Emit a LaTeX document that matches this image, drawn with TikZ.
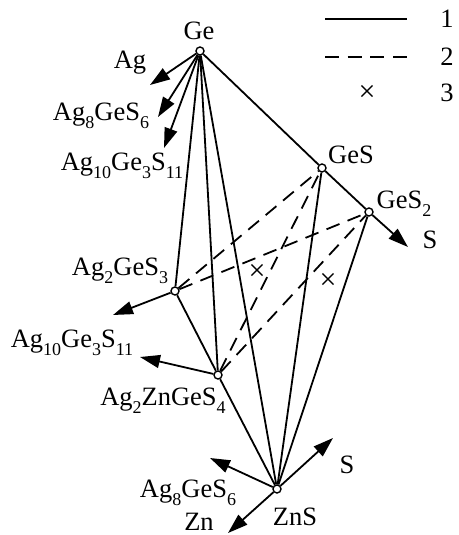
\documentclass[tikz,border=0pt]{standalone}
\usepackage{fontspec}
\setmainfont{Liberation Serif}
\usetikzlibrary{arrows.meta}

\newcommand{\ind}[1]{\raisebox{-0.3em}{\fontsize{18}{18}\selectfont #1}}

\begin{document}
\begin{tikzpicture}[
    x=1pt, y=-1pt,
    font=\fontsize{26.5}{30}\selectfont,
    % Style for the phase points
    punto/.style={
        circle,
        draw=black,
        fill=white,
        line width=1.4pt,
        inner sep=0pt,
        minimum size=8pt
    },
    % Style for the labels
    etiqueta/.style={
        inner sep=0pt
    },
    % Style for the crosses
    cruz/.style={
        inner sep=0pt,
        font=\fontsize{30}{30}\selectfont
    },
    % Solid tie lines (1)
    linea/.style={
        line width=1.8pt
    },
    % Dashed lines (2)
    lineaDiscontinua/.style={
        line width=1.8pt,
        dash pattern=on 14pt off 8.7pt
    },
    % Arrows towards other phases
    flecha/.style={
        -{Triangle[length=20pt,width=13pt]},
        line width=1.8pt
    }
]
    \useasboundingbox (0,0) rectangle (458,535);

    % --- LEGEND (top right) ---
    \coordinate (l1a) at (325,19);
    \coordinate (l1b) at (407,19);
    \coordinate (l2a) at (325,57);
    \coordinate (l2b) at (407,57);
    \draw[linea] (l1a) -- (l1b);
    \draw[lineaDiscontinua] (l2a) -- (l2b);
    \node[cruz] (cruzL) at (367,93) {×};
    \node[etiqueta] (n1) at (447,19) {1};
    \node[etiqueta] (n2) at (447,57) {2};
    \node[etiqueta] (n3) at (447,93) {3};

    % --- PHASE POINTS ---
    \node[punto] (ge)        at (200,51)  {};
    \node[punto] (ges)       at (322,168) {};
    \node[punto] (ges2)      at (369,212) {};
    \node[punto] (ag2ges3)   at (175,291) {};
    \node[punto] (ag2znges4) at (218,375) {};
    \node[punto] (zns)       at (277,489) {};

    % --- LABELS ---
    \node[etiqueta] (tGe)        at (199,31)  {Ge};
    \node[etiqueta] (tAg)        at (130,63)  {Ag};
    \node[etiqueta] (tAg8)       at (101,116) {Ag\ind{8}GeS\ind{6}};
    \node[etiqueta] (tAg10)      at (122,166) {Ag\ind{10}Ge\ind{3}S\ind{11}};
    \node[etiqueta] (tGeS)       at (351,155) {GeS};
    \node[etiqueta] (tGeS2)      at (404,204) {GeS\ind{2}};
    \node[etiqueta] (tS1)        at (430,240) {S};
    \node[etiqueta] (tAg2GeS3)   at (120,271) {Ag\ind{2}GeS\ind{3}};
    \node[etiqueta] (tAg10b)     at (72,343)  {Ag\ind{10}Ge\ind{3}S\ind{11}};
    \node[etiqueta] (tAg2ZnGeS4) at (163,401) {Ag\ind{2}ZnGeS\ind{4}};
    \node[etiqueta] (tS2)        at (347,465) {S};
    \node[etiqueta] (tAg8b)      at (188,493) {Ag\ind{8}GeS\ind{6}};
    \node[etiqueta] (tZn)        at (199,522) {Zn};
    \node[etiqueta] (tZnS)       at (295,517) {ZnS};

    % --- ARROW ENDS ---
    \coordinate (fAg)    at (150,85);
    \coordinate (fAg8)   at (158,117);
    \coordinate (fAg10)  at (164,148);
    \coordinate (fS1)    at (408,247);
    \coordinate (fAg10b) at (113,315);
    \coordinate (fAg10c) at (140,357);
    \coordinate (fAg8b)  at (210,458);
    \coordinate (fS2)    at (333,438);
    \coordinate (fZn)    at (228,533);

    % --- SOLID LINES (1) ---
    \draw[linea] (ge) -- (ges);
    \draw[linea] (ges) -- (ges2);
    \draw[linea] (ge) -- (ag2ges3);
    \draw[linea] (ge) -- (ag2znges4);
    \draw[linea] (ge) -- (zns);
    \draw[linea] (ag2ges3) -- (ag2znges4);
    \draw[linea] (ag2znges4) -- (zns);
    \draw[linea] (ges) -- (zns);
    \draw[linea] (ges2) -- (zns);

    % --- DASHED LINES (2) ---
    \draw[lineaDiscontinua] (ag2ges3) -- (ges);
    \draw[lineaDiscontinua] (ag2ges3) -- (ges2);
    \draw[lineaDiscontinua] (ag2znges4) -- (ges);
    \draw[lineaDiscontinua] (ag2znges4) -- (ges2);

    % --- CROSSES (3) ---
    \node[cruz] (cruz1) at (257,272) {×};
    \node[cruz] (cruz2) at (328,281) {×};

    % --- ARROWS ---
    \draw[flecha] (ge) -- (fAg);
    \draw[flecha] (ge) -- (fAg8);
    \draw[flecha] (ge) -- (fAg10);
    \draw[flecha] (ges2) -- (fS1);
    \draw[flecha] (ag2ges3) -- (fAg10b);
    \draw[flecha] (ag2znges4) -- (fAg10c);
    \draw[flecha] (zns) -- (fAg8b);
    \draw[flecha] (zns) -- (fS2);
    \draw[flecha] (zns) -- (fZn);

\end{tikzpicture}
\end{document}
